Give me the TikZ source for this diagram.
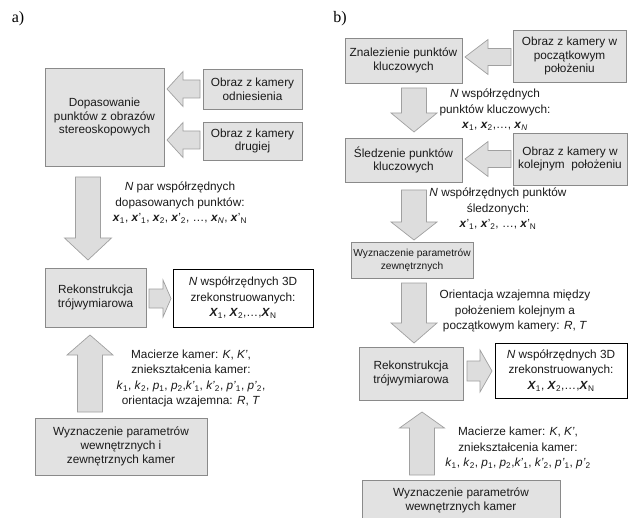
\documentclass[tikz,border=0pt]{standalone}
\usepackage{fontspec}
\setmainfont{Liberation Sans}
\newfontfamily\serifA{Liberation Serif}
\definecolor{boxfill}{HTML}{E2E2E2}
\definecolor{boxborder}{HTML}{8A8A8A}
\definecolor{arrfill}{HTML}{DDDDDD}
\definecolor{arrborder}{HTML}{A0A0A0}
\definecolor{txt}{HTML}{1A1A1A}
\newcommand\bx{\textbf{\textit{x}}}
\newcommand\bX{\textbf{\textit{X}}}
\newcommand\sbs[1]{\textsubscript{#1}}
\newcommand\boxfont{\fontsize{11.8}{13.8}\selectfont}
\newcommand\smallboxfont{\fontsize{10.2}{12.4}\selectfont}
\newcommand\labfont{\fontsize{11.8}{15.5}\selectfont}
\newcommand\varr[6]{\draw[barr] (#1-#2,#4) -- (#1+#2,#4) -- (#1+#2,#5) -- (#1+#3,#5) -- (#1,#6) -- (#1-#3,#5) -- (#1-#2,#5) -- cycle;}
\newcommand\harr[6]{\draw[barr] (#4,#1-#2) -- (#5,#1-#2) -- (#5,#1-#3) -- (#6,#1) -- (#5,#1+#3) -- (#5,#1+#2) -- (#4,#1+#2) -- cycle;}
\tikzset{
  gbox/.style={draw=boxborder, fill=boxfill, line width=0.8pt, inner sep=0pt, align=center, font=\boxfont, text=txt},
  wbox/.style={draw=black, fill=white, line width=0.9pt, inner sep=0pt, align=center, font=\labfont, text=txt},
  lab/.style={inner sep=0pt, align=center, font=\labfont, text=txt},
  barr/.style={draw=arrborder, fill=arrfill, line width=0.7pt, line join=miter},
  plabel/.style={inner sep=0pt, font=\serifA\fontsize{16}{18}\selectfont}
}
\begin{document}
\begin{tikzpicture}[x=1pt,y=-1pt]
\useasboundingbox (0,0) rectangle (628,518);
\clip (0,0) rectangle (628,518);
% ---------------- panel a
\node[plabel] (la) at (18,19) {a)};
\node[gbox, minimum width=119pt, minimum height=98pt] (A1) at (104.5,117) {Dopasowanie\\punktów z obrazów\\stereoskopowych};
\node[gbox, minimum width=99pt, minimum height=40pt] (A2) at (252.5,89) {Obraz z kamery\\odniesienia};
\node[gbox, minimum width=99pt, minimum height=38pt] (A3) at (252.5,141) {Obraz z kamery\\drugiej};
\harr{89}{9}{17.5}{200}{183}{167}
\harr{140}{9}{17.5}{200}{183}{167}
\varr{88}{12.5}{23.5}{177}{238}{260}
\node[lab] (LA1) at (180,203) {\textit{N} par współrzędnych\\dopasowanych punktów:\\\bx\sbs{1}, \bx'\sbs{1}, \bx\sbs{2}, \bx'\sbs{2}, …, \bx\sbs{\textit{N}}, \bx'\sbs{N}};
\node[gbox, minimum width=101pt, minimum height=59pt] (A4) at (95.5,297.5) {Rekonstrukcja\\trójwymiarowa};
\harr{298.5}{9.5}{18.5}{149}{163}{171}
\node[wbox, minimum width=140pt, minimum height=58pt] (A5) at (243,298) {\textit{N} współrzędnych 3D\\zrekonstruowanych:\\\bX\sbs{1}, \bX\sbs{2},…,\bX\sbs{N}};
\varr{90}{12.5}{23}{412}{355}{335}
\node[lab] (LA2) at (191,378.5) {Macierze kamer: \textit{K}, \textit{K'},\\zniekształcenia kamer:\\\textit{k}\sbs{1}, \textit{k}\sbs{2}, \textit{p}\sbs{1}, \textit{p}\sbs{2},\textit{k'}\sbs{1}, \textit{k'}\sbs{2}, \textit{p'}\sbs{1}, \textit{p'}\sbs{2},\\orientacja wzajemna: \textit{R}, \textit{T}};
\node[gbox, minimum width=172pt, minimum height=57pt] (A6) at (121,446.5) {Wyznaczenie parametrów\\wewnętrznych i\\zewnętrznych kamer};
% ---------------- panel b
\node[plabel] (lb) at (340,19) {b)};
\node[gbox, minimum width=117pt, minimum height=45pt] (B1) at (403.5,60.5) {Znalezienie punktów\\kluczowych};
\node[gbox, minimum width=113pt, minimum height=52pt] (B2) at (569.5,56) {Obraz z kamery w\\początkowym\\położeniu};
\harr{57}{8.5}{17.5}{511}{488}{465}
\varr{414}{12.5}{23}{88}{113}{132}
\node[lab] (LB1) at (495,110) {\textit{N} współrzędnych\\punktów kluczowych:\\\bx\sbs{1}, \bx\sbs{2},…, \bx\sbs{\textit{N}}};
\node[gbox, minimum width=117pt, minimum height=44pt] (B3) at (403.5,160) {Śledzenie punktów\\kluczowych};
\node[gbox, minimum width=114pt, minimum height=52pt] (B4) at (570,159) {Obraz z kamery w\\kolejnym\ \ położeniu};
\harr{159}{8.5}{17.5}{511}{488}{465}
\varr{414}{12.5}{23}{190}{222}{240}
\node[lab] (LB2) at (498,209) {\textit{N} współrzędnych punktów\\śledzonych:\\\bx'\sbs{1}, \bx'\sbs{2}, …, \bx'\sbs{N}};
\node[gbox, font=\smallboxfont, minimum width=122pt, minimum height=36pt] (B5) at (412,260.5) {Wyznaczenie parametrów\\zewnętrznych};
\varr{414}{12.5}{23}{283}{323}{343}
\node[lab] (LB3) at (515,311) {Orientacja wzajemna między\\położeniem kolejnym a\\początkowym kamery: \textit{R}, \textit{T}};
\node[gbox, minimum width=104pt, minimum height=53pt] (B6) at (411,373.5) {Rekonstrukcja\\trójwymiarowa};
\harr{371}{10}{21}{467}{480}{492}
\node[wbox, minimum width=132pt, minimum height=55pt] (B7) at (561,370.5) {\textit{N} współrzędnych 3D\\zrekonstruowanych:\\\bX\sbs{1}, \bX\sbs{2},…,\bX\sbs{N}};
\varr{422}{12.5}{22.5}{475}{428}{412}
\node[lab] (LB4) at (518,448) {Macierze kamer: \textit{K}, \textit{K'},\\zniekształcenia kamer:\\\textit{k}\sbs{1}, \textit{k}\sbs{2}, \textit{p}\sbs{1}, \textit{p}\sbs{2},\textit{k'}\sbs{1}, \textit{k'}\sbs{2}, \textit{p'}\sbs{1}, \textit{p'}\sbs{2}};
\node[gbox, minimum width=198pt, minimum height=40pt, anchor=north] (B8) at (461,480) {Wyznaczenie parametrów\\wewnętrznych kamer};
\end{tikzpicture}
\end{document}
